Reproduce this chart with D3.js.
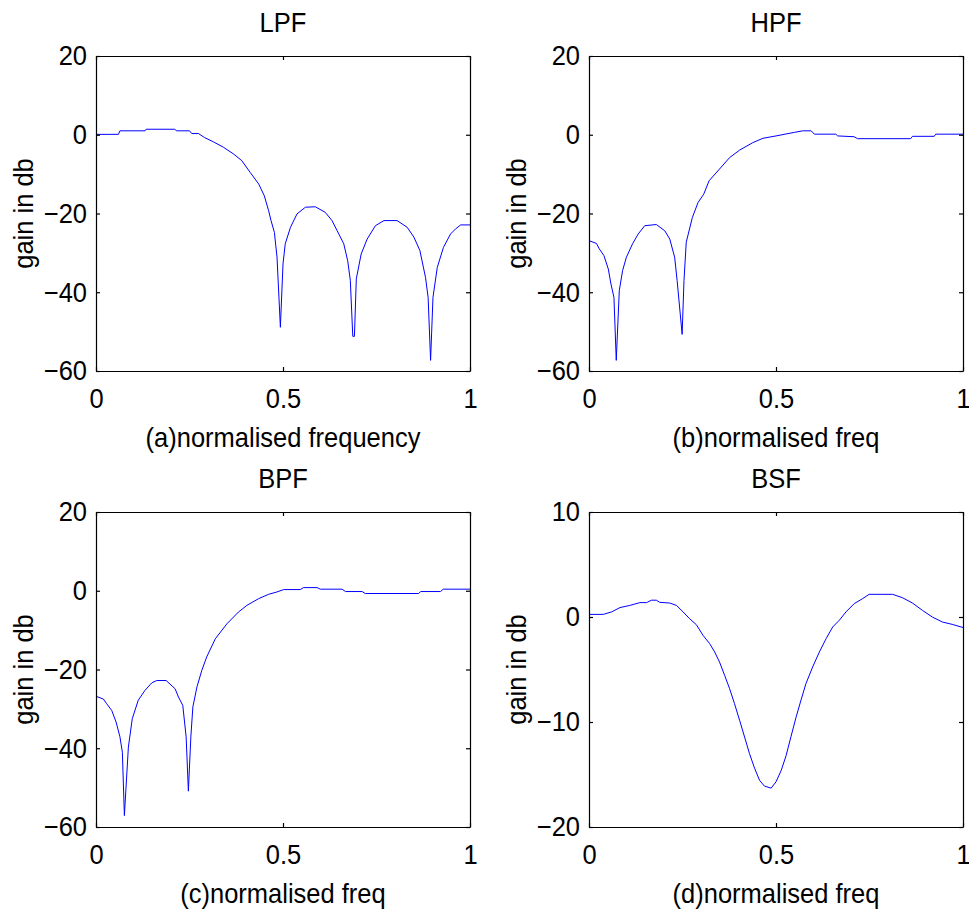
<!DOCTYPE html>
<html>
<head>
<meta charset="utf-8">
<script src="https://cdn.jsdelivr.net/npm/d3@7"></script>
<style>
  body { margin: 0; background: #fff; }
  text { font-family: "Liberation Sans", Arial, sans-serif; fill: #000; }
</style>
</head>
<body>
<div id="vizcontainer"></div>
<script>
// values (normalised frequency, gain in dB)
const lpfFreq = [0, 0.06, 0.064, 0.131, 0.134, 0.21, 0.216, 0.25, 0.256, 0.274, 0.29, 0.314, 0.341, 0.368, 0.39, 0.4125, 0.435, 0.45, 0.4616, 0.468, 0.477, 0.484, 0.493, 0.5, 0.506, 0.52, 0.5375, 0.56, 0.5866, 0.613, 0.631, 0.645, 0.6625, 0.673, 0.68, 0.6866, 0.691, 0.696, 0.709, 0.725, 0.747, 0.77, 0.805, 0.832, 0.85, 0.866, 0.881, 0.888, 0.8946, 0.901, 0.9125, 0.929, 0.948, 0.9616, 0.975, 1];
const lpfGain = [0.1, 0.1, 1.0, 1.0, 1.4, 1.4, 1.0, 1.0, 0.3, 0.3, -0.7, -1.8, -3.2, -4.9, -6.6, -9.6, -12.5, -15.5, -19.3, -21.8, -24.8, -31.1, -48.9, -32.8, -27.7, -23.5, -20.1, -18.4, -18.3, -19.7, -21.8, -24.4, -27.7, -32.0, -37.0, -51.2, -51.2, -36.6, -30.3, -26.5, -23.1, -21.8, -21.8, -23.5, -26.0, -29.4, -36.2, -41.3, -57.3, -41.3, -33.7, -28.6, -25.2, -23.9, -22.9, -22.9];

const hpfFreq = [0, 0.02, 0.0276, 0.04, 0.0516, 0.0587, 0.0667, 0.0729, 0.081, 0.0898, 0.1, 0.1164, 0.1316, 0.149, 0.18, 0.2027, 0.216, 0.229, 0.2356, 0.249, 0.254, 0.26, 0.2764, 0.2916, 0.3067, 0.321, 0.349, 0.376, 0.4027, 0.438, 0.465, 0.5, 0.549, 0.5716, 0.594, 0.6027, 0.66, 0.665, 0.709, 0.718, 0.86, 0.865, 0.923, 0.927, 1];
const hpfGain = [-26.9, -27.6, -29.0, -30.7, -34.1, -37.9, -41.3, -57.3, -39.6, -34.5, -31.1, -27.7, -25.2, -23.1, -22.8, -24.4, -26.5, -31.1, -37.0, -50.7, -37.0, -27.3, -21.0, -17.2, -15.1, -11.7, -8.7, -5.8, -3.9, -2.0, -0.9, -0.3, 0.6, 1.0, 1.0, 0.15, 0.15, -0.3, -0.5, -1.0, -1.0, -0.4, -0.4, 0.15, 0.15];

const bpfFreq = [0, 0.0196, 0.0286, 0.042, 0.0536, 0.064, 0.0705, 0.0759, 0.0866, 0.097, 0.113, 0.131, 0.149, 0.1625, 0.1875, 0.2116, 0.2205, 0.232, 0.241, 0.247, 0.2536, 0.259, 0.27, 0.283, 0.296, 0.319, 0.35, 0.381, 0.4036, 0.435, 0.4616, 0.484, 0.5018, 0.546, 0.555, 0.591, 0.6, 0.658, 0.667, 0.7116, 0.72, 0.863, 0.868, 0.921, 0.9286, 1];
const bpfGain = [-26.8, -27.5, -28.7, -30.4, -33.3, -37.1, -41.0, -57.1, -39.7, -32.5, -27.8, -25.3, -23.4, -22.8, -22.8, -24.9, -27.0, -29.1, -37.1, -50.9, -37.1, -29.5, -24.4, -20.2, -16.8, -12.2, -8.4, -5.4, -3.7, -2.0, -0.9, -0.3, 0.3, 0.3, 0.8, 0.8, 0.4, 0.4, -0.2, -0.2, -0.7, -0.7, -0.2, -0.2, 0.4, 0.4];

const bsfFreq = [0, 0.038, 0.06, 0.083, 0.109, 0.136, 0.154, 0.167, 0.18, 0.189, 0.216, 0.234, 0.2516, 0.269, 0.287, 0.305, 0.3227, 0.336, 0.349, 0.3627, 0.376, 0.389, 0.4027, 0.416, 0.429, 0.4427, 0.456, 0.469, 0.487, 0.5, 0.514, 0.527, 0.54, 0.554, 0.567, 0.58, 0.598, 0.616, 0.634, 0.6516, 0.669, 0.687, 0.709, 0.7316, 0.749, 0.8116, 0.838, 0.865, 0.8916, 0.918, 0.945, 0.971, 1];
const bsfGain = [0.25, 0.25, 0.48, 0.9, 1.1, 1.37, 1.37, 1.6, 1.6, 1.4, 1.33, 1.1, 0.48, -0.16, -0.73, -1.75, -2.54, -3.33, -4.29, -5.56, -6.83, -8.25, -9.84, -11.43, -13.0, -14.4, -15.55, -16.1, -16.3, -15.7, -14.6, -13.2, -11.4, -9.5, -7.9, -6.35, -4.76, -3.33, -2.06, -0.95, -0.32, 0.48, 1.27, 1.75, 2.16, 2.16, 1.84, 1.33, 0.63, 0.0, -0.48, -0.7, -1.0];

const titles = ['LPF', 'HPF', 'BPF', 'BSF'];
const xLabels = ['(a)normalised frequency', '(b)normalised freq', '(c)normalised freq', '(d)normalised freq'];
const yLabel = 'gain in db';
const xTicks = [0, 0.5, 1];
const dbTicks = [20, 0, -20, -40, -60];
const bsfTicks = [10, 0, -10, -20];

const
  width = 969,
  height = 913,
  cols = [96, 589],
  rows = [56, 512],
  plotW = 374,
  plotH = 315,
  tick = 4,
  fontSize = '25.5px',
  stretch = 1.1   // the reference text is a little taller than it is wide
  ;

const panels = [
  { freq: lpfFreq, gain: lpfGain, yTicks: dbTicks, col: 0, row: 0 },
  { freq: hpfFreq, gain: hpfGain, yTicks: dbTicks, col: 1, row: 0 },
  { freq: bpfFreq, gain: bpfGain, yTicks: dbTicks, col: 0, row: 1 },
  { freq: bsfFreq, gain: bsfGain, yTicks: bsfTicks, col: 1, row: 1 }
];

const svg = d3.select('#vizcontainer')
  .append('svg')
  .attr('xmlns', 'http://www.w3.org/2000/svg')
  .attr('width', width)
  .attr('height', height)
  ;

svg.append('rect')
  .attr('width', width)
  .attr('height', height)
  .attr('fill', '#fff')
  ;

panels.forEach((p, i) => {
  const g = svg.append('g')
    .attr('transform', `translate(${cols[p.col]},${rows[p.row]})`)
    ;

  const x = d3.scaleLinear().domain([0, 1]).range([0, plotW]);
  const y = d3.scaleLinear()
    .domain(d3.extent(p.yTicks))
    .range([plotH, 0])
    ;

  // the blue response curve
  g.append('path')
    .datum(d3.zip(p.freq, p.gain))
    .attr('fill', 'none')
    .attr('stroke', '#0000ff')
    .attr('stroke-width', 1)
    .attr('d', d3.line()
      .x(d => x(d[0]))
      .y(d => y(d[1]))
    )
    ;

  // ticks point inwards on all four sides, labels on left and bottom only
  const left = d3.axisLeft(y).tickValues(p.yTicks).tickSize(-tick).tickSizeOuter(0).tickPadding(9);
  const right = d3.axisRight(y).tickValues(p.yTicks).tickSize(-tick).tickSizeOuter(0).tickFormat('');
  const bottom = d3.axisBottom(x).tickValues(xTicks).tickSize(-tick).tickSizeOuter(0).tickPadding(15.5).tickFormat(d3.format('~g'));
  const top = d3.axisTop(x).tickValues(xTicks).tickSize(-tick).tickSizeOuter(0).tickFormat('');

  g.append('g').call(left);
  g.append('g').attr('transform', `translate(${plotW},0)`).call(right);
  g.append('g').attr('transform', `translate(0,${plotH})`).call(bottom);
  g.append('g').call(top);

  g.selectAll('.domain, .tick line')
    .attr('stroke', '#000')
    .attr('stroke-width', 1.2)
    ;
  g.selectAll('.tick text')
    .attr('transform', `scale(1,${stretch})`)
    .style('font-size', fontSize)
    .style('font-family', '"Liberation Sans", Arial, sans-serif')
    ;

  g.append('text')
    .attr('transform', `translate(${plotW / 2},-24) scale(1,${stretch})`)
    .attr('text-anchor', 'middle')
    .style('font-size', fontSize)
    .text(titles[i])
    ;

  g.append('text')
    .attr('transform', `translate(${plotW / 2},${plotH + 76}) scale(1,${stretch})`)
    .attr('text-anchor', 'middle')
    .style('font-size', fontSize)
    .text(xLabels[i])
    ;

  g.append('text')
    .attr('transform', `translate(-63,${plotH / 2}) rotate(-90) scale(1,${stretch})`)
    .attr('text-anchor', 'middle')
    .style('font-size', fontSize)
    .text(yLabel)
    ;
});
</script>
</body>
</html>
